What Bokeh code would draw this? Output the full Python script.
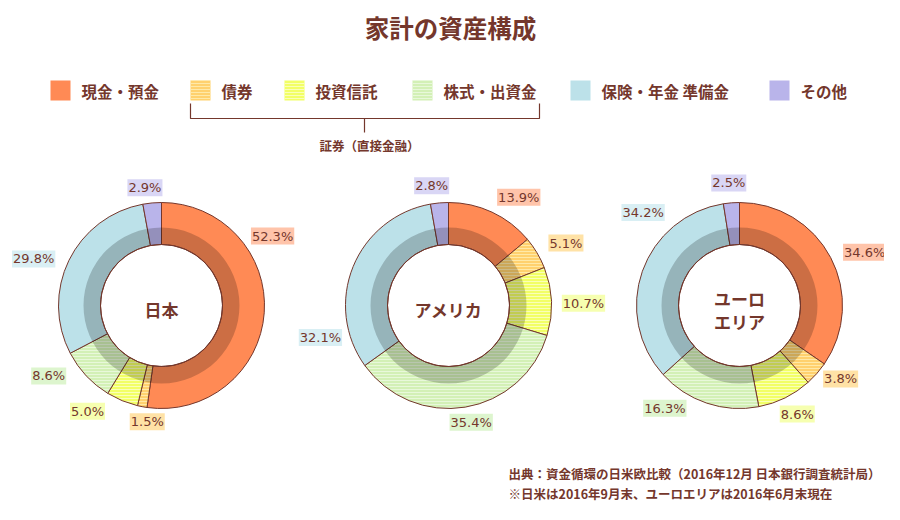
import math
from bokeh.plotting import figure
from bokeh.models import Range1d, Label
from bokeh.core.properties import value
from bokeh.embed import file_html
from bokeh.resources import INLINE

# ---------------- data ----------------
title = "家計の資産構成"
categories = ["現金・預金", "債券", "投資信託", "株式・出資金", "保険・年金 準備金", "その他"]
regions = ["日本", "アメリカ", "ユーロ\nエリア"]
japan = [52.3, 1.5, 5.0, 8.6, 29.8, 2.9]
usa = [13.9, 5.1, 10.7, 35.4, 32.1, 2.8]
euro = [34.6, 3.8, 8.6, 16.3, 34.2, 2.5]
bracket_label = "証券（直接金融）"
notes = ["出典：資金循環の日米欧比較（2016年12月 日本銀行調査統計局）",
         "※日米は2016年9月末、ユーロエリアは2016年6月末現在"]

# ---------------- style ----------------
colors = ["#FF8A55", "#FFD16E", "#F2FF66", "#D3F0B6", "#BCE1E9", "#B9B4EA"]
hatch_cols = [None, "#FFE9A8", "#FAFFB8", "#E8F8DA", None, None]
label_bg = ["#FFC4AA", "#FFE2A6", "#F6FFB0", "#DDF5CE", "#D9EFF4", "#D9D6F5"]
brown = "#74372C"
FONT = "Noto Sans CJK JP"
NUM_FONT = "DejaVu Sans"

W, H = 884, 504
def sy(y):  # screen y -> data y
    return 520 - y

p = figure(width=W, height=H, x_range=Range1d(0, W), y_range=Range1d(520 - H, 520),
           output_backend="svg", toolbar_location=None, min_border=0)
p.axis.visible = False
p.grid.visible = False
p.outline_line_color = None
p.background_fill_color = "white"

# title
p.text(x=[450], y=[sy(27)], text=[title], text_font=value(FONT), text_font_size="24.5px",
       text_font_style="bold", text_color=brown, text_align="center", text_baseline="middle")

# legend
leg_x = [50, 190, 284, 412, 570, 769]
for i, cat in enumerate(categories):
    p.rect(x=[leg_x[i] + 10], y=[sy(90)], width=20, height=20, fill_color=colors[i],
           line_color=None,
           hatch_pattern="horizontal_line" if hatch_cols[i] else None,
           hatch_color=hatch_cols[i] or colors[i], hatch_scale=3, hatch_weight=1)
    p.text(x=[leg_x[i] + 31], y=[sy(90)], text=[cat], text_font=value(FONT),
           text_font_size="15.5px", text_font_style="bold", text_color=brown,
           text_align="left", text_baseline="middle")

# bracket
p.line(x=[190, 190, 539, 539], y=[sy(103), sy(118), sy(118), sy(103)], line_color=brown, line_width=1.2)
p.line(x=[364, 364], y=[sy(118), sy(132)], line_color=brown, line_width=1.2)
p.text(x=[369], y=[sy(145)], text=[bracket_label], text_font=value(FONT), text_font_size="12.5px",
       text_font_style="bold", text_color=brown, text_align="center", text_baseline="middle")

# donuts
centers_x = [161, 448, 739]
cy = sy(305)
R_OUT, R_IN, R_SH = 103, 61, 78
label_angles = [[58, 187, 215, 238, 290, 352],
                [33, 62, 89, 169, 256, 352],
                [67, 126, 152, 216, 314, 355]]
label_dist = [[131, 117, 129, 133, 136, 119],
              [129, 133, 135, 119, 132, 121],
              [136, 125, 123, 127, 134, 123]]

for k, vals in enumerate([japan, usa, euro]):
    cx = centers_x[k]
    total = sum(vals)
    cum = 0.0
    starts, ends = [], []
    for v in vals:
        a0 = math.pi / 2 - 2 * math.pi * cum / total
        cum += v
        a1 = math.pi / 2 - 2 * math.pi * cum / total
        starts.append(a1)
        ends.append(a0)
    for i in range(len(vals)):
        p.annular_wedge(x=[cx], y=[cy], inner_radius=R_IN, outer_radius=R_OUT,
                        start_angle=[starts[i]], end_angle=[ends[i]], direction="anticlock",
                        fill_color=colors[i], line_color=brown, line_width=1,
                        hatch_pattern="horizontal_line" if hatch_cols[i] else None,
                        hatch_color=hatch_cols[i] or colors[i], hatch_scale=3, hatch_weight=1)
    p.annulus(x=[cx], y=[cy], inner_radius=R_IN, outer_radius=R_SH,
              fill_color="black", fill_alpha=0.2, line_color=None)
    p.circle(x=[cx], y=[cy], radius=R_IN, fill_color=None, line_color=brown, line_width=1)
    # center label
    lines = regions[k].split("\n")
    n = len(lines)
    for j, ln in enumerate(lines):
        yy = sy(309) + (n - 1) * 11.5 - j * 23
        p.text(x=[cx], y=[yy], text=[ln], text_font=value(FONT), text_font_size="17px",
               text_font_style="bold", text_color=brown, text_align="center", text_baseline="middle")
    # value labels
    for i, v in enumerate(vals):
        ang = math.radians(label_angles[k][i])
        d = label_dist[k][i]
        lx = cx + d * math.sin(ang)
        ly = cy + d * math.cos(ang)
        p.add_layout(Label(x=lx, y=ly, text=f"{v:.1f}%", text_font=NUM_FONT, text_font_size="13px",
                           text_color=brown, text_align="center", text_baseline="middle",
                           background_fill_color=label_bg[i], background_fill_alpha=1.0,
                           padding=1))

# notes (kept inside the 884x504 canvas)
p.text(x=[508, 508], y=[sy(473), sy(493)], text=notes, text_font=value(FONT),
       text_font_size="12.5px", text_font_style="bold", text_color=brown,
       text_align="left", text_baseline="middle")

open("out.html", "w").write(file_html(p, INLINE))
